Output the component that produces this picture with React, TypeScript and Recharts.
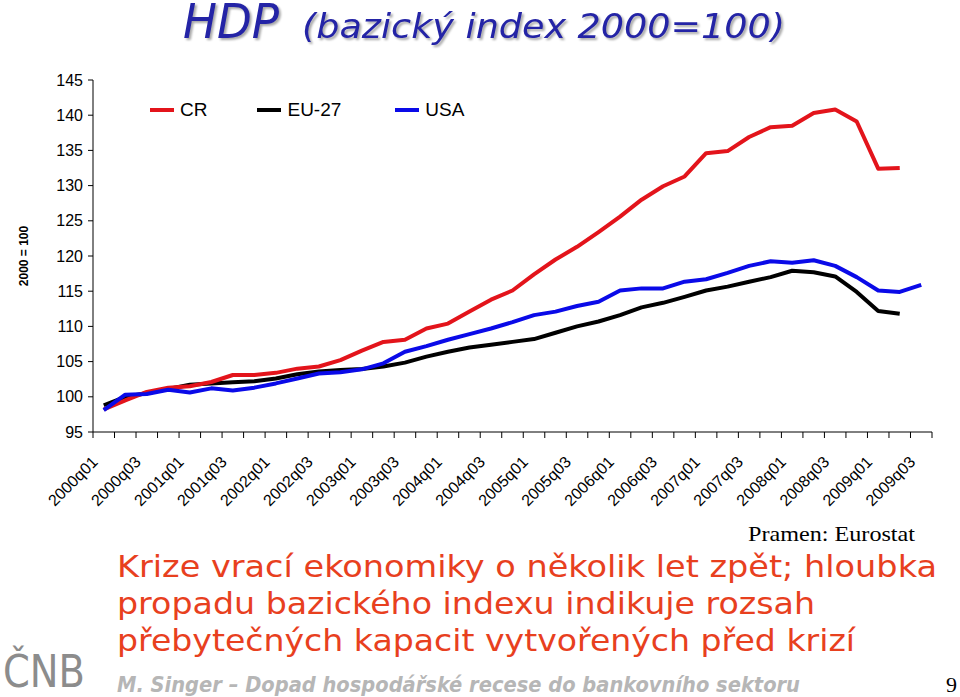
import React from 'react';
import { LineChart, Line, XAxis, YAxis, Legend } from 'recharts';

const quarters = [
  '2000q01', '2000q02', '2000q03', '2000q04',
  '2001q01', '2001q02', '2001q03', '2001q04',
  '2002q01', '2002q02', '2002q03', '2002q04',
  '2003q01', '2003q02', '2003q03', '2003q04',
  '2004q01', '2004q02', '2004q03', '2004q04',
  '2005q01', '2005q02', '2005q03', '2005q04',
  '2006q01', '2006q02', '2006q03', '2006q04',
  '2007q01', '2007q02', '2007q03', '2007q04',
  '2008q01', '2008q02', '2008q03', '2008q04',
  '2009q01', '2009q02', '2009q03',
];

const cr = [
  98.2, 99.5, 100.7, 101.3, 101.5, 102.1, 103.1, 103.1, 103.4, 104.0,
  104.3, 105.2, 106.55, 107.8, 108.1, 109.7, 110.4, 112.1, 113.8, 115.1,
  117.4, 119.5, 121.3, 123.4, 125.6, 128.0, 129.9, 131.3, 134.6, 134.9,
  136.9, 138.3, 138.5, 140.3, 140.8, 139.1, 132.4, 132.5,
];

const eu27 = [
  98.8, 100.0, 100.5, 101.1, 101.7, 101.9, 102.05, 102.2, 102.6, 103.2,
  103.6, 103.8, 103.95, 104.3, 104.85, 105.7, 106.4, 107.0, 107.4, 107.8,
  108.2, 109.1, 110.0, 110.7, 111.6, 112.7, 113.35, 114.2, 115.1, 115.65,
  116.35, 117.0, 117.9, 117.7, 117.1, 114.9, 112.2, 111.8,
];

const usa = [
  98.1, 100.3, 100.4, 101.0, 100.6, 101.2, 100.9, 101.3, 101.9, 102.6,
  103.3, 103.5, 103.9, 104.75, 106.4, 107.2, 108.1, 108.9, 109.7, 110.6,
  111.6, 112.1, 112.9, 113.5, 115.1, 115.4, 115.4, 116.35, 116.7, 117.6,
  118.6, 119.25, 119.05, 119.4, 118.6, 117.0, 115.1, 114.9, 115.9,
];

const yTicks = [95, 100, 105, 110, 115, 120, 125, 130, 135, 140, 145];

const seriesNames = ['CR', 'EU-27', 'USA'];
const seriesColors = ['#e3141b', '#000000', '#0a0ae8'];

const data = quarters.map((q, i) => ({
  q,
  CR: cr[i] ?? null,
  'EU-27': eu27[i] ?? null,
  USA: usa[i] ?? null,
}));

// geometry
const W = 960;
const H = 697;
const PLOT_LEFT = 93;
const PLOT_RIGHT = 932;
const PLOT_TOP = 80;
const PLOT_BOTTOM = 432;
const Y_AXIS_W = 80;
const X_AXIS_H = 100;
const BAND = (PLOT_RIGHT - PLOT_LEFT) / quarters.length;

const AXIS_FONT = '"Liberation Sans", Arial, sans-serif';
const TITLE_FONT = '"DejaVu Sans Condensed", "DejaVu Sans", sans-serif';
const TITLE_COLOR = '#2424a6';

const XTick = (props: any) => {
  const { x, payload, index } = props;
  const idx = typeof index === 'number' ? index : payload.index;
  const half = BAND / 2;
  const tx = x - 5;
  const ty = PLOT_BOTTOM + 31;
  return (
    <g>
      <line x1={x - half} x2={x - half} y1={PLOT_BOTTOM} y2={PLOT_BOTTOM + 6} stroke="#000" strokeWidth={1} />
      {idx === quarters.length - 1 && (
        <line x1={x + half} x2={x + half} y1={PLOT_BOTTOM} y2={PLOT_BOTTOM + 6} stroke="#000" strokeWidth={1} />
      )}
      {idx % 2 === 0 && (
        <text
          x={tx}
          y={ty}
          transform={`rotate(-45 ${tx} ${ty})`}
          textAnchor="end"
          fontSize={16}
          fontFamily={AXIS_FONT}
          fill="#000"
        >
          {payload.value}
        </text>
      )}
    </g>
  );
};

const YLabel = (props: any) => {
  const vb = props.viewBox || {};
  const cx = 24;
  const cy = (vb.y ?? PLOT_TOP) + (vb.height ?? PLOT_BOTTOM - PLOT_TOP) / 2;
  return (
    <text
      x={cx}
      y={cy}
      transform={`rotate(-90 ${cx} ${cy})`}
      textAnchor="middle"
      dominantBaseline="central"
      fontSize={12}
      fontWeight="bold"
      fontFamily={AXIS_FONT}
      fill="#000"
    >
      2000 = 100
    </text>
  );
};

const renderLegend = (props: any) => {
  const payload: any[] = props.payload || [];
  const ordered = seriesNames
    .map((n) => payload.find((p) => p.value === n || p.dataKey === n))
    .filter(Boolean);
  return (
    <div style={{ display: 'flex', alignItems: 'center', fontFamily: AXIS_FONT, fontSize: 19, color: '#000', whiteSpace: 'nowrap' }}>
      {ordered.map((p: any, i: number) => (
        <div key={p.value} style={{ display: 'flex', alignItems: 'center', marginRight: i === 0 ? 50 : 54 }}>
          <div style={{ width: 24, height: 4, background: p.color, marginRight: 6 }} />
          <span>{p.value}</span>
        </div>
      ))}
    </div>
  );
};

export default function App() {
  return (
    <div style={{ position: 'absolute', left: 0, top: 0, width: W, height: H, overflow: 'hidden', background: '#fff' }}>
      <svg width={W} height={H} style={{ position: 'absolute', left: 0, top: 0 }}>
        <g style={{ filter: 'drop-shadow(2px 2px 1px #a8a8a8)' }}>
          <text
            x={183}
            y={38}
            fontSize={48}
            fontStyle="italic"
            fontFamily={TITLE_FONT}
            fill={TITLE_COLOR}
            textLength={96}
            lengthAdjust="spacingAndGlyphs"
          >
            HDP
          </text>
          <text
            x={302}
            y={38}
            fontSize={34}
            fontStyle="italic"
            fontFamily={TITLE_FONT}
            fill={TITLE_COLOR}
            textLength={483}
            lengthAdjust="spacingAndGlyphs"
          >
            (bazický index 2000=100)
          </text>
        </g>
        <text
          x={748}
          y={541}
          fontSize={22}
          fontFamily='"Liberation Serif", "Times New Roman", serif'
          fill="#000"
          textLength={167}
          lengthAdjust="spacingAndGlyphs"
        >
          Pramen: Eurostat
        </text>
        <text x={117} y={577} fontSize={31} fontFamily='"DejaVu Sans", sans-serif' fill="#e8401e" textLength={820} lengthAdjust="spacingAndGlyphs">
          Krize vrací ekonomiky o několik let zpět; hloubka
        </text>
        <text x={117} y={614} fontSize={31} fontFamily='"DejaVu Sans", sans-serif' fill="#e8401e" textLength={698} lengthAdjust="spacingAndGlyphs">
          propadu bazického indexu indikuje rozsah
        </text>
        <text x={117} y={651} fontSize={31} fontFamily='"DejaVu Sans", sans-serif' fill="#e8401e" textLength={738} lengthAdjust="spacingAndGlyphs">
          přebytečných kapacit vytvořených před krizí
        </text>
        <text
          x={117}
          y={692}
          fontSize={21}
          fontStyle="italic"
          fontWeight="bold"
          fontFamily={TITLE_FONT}
          fill="#b6b6b6"
          textLength={683}
          lengthAdjust="spacingAndGlyphs"
        >
          M. Singer – Dopad hospodářské recese do bankovního sektoru
        </text>
        <text x={946} y={692} fontSize={22} fontFamily='"Liberation Serif", serif' fill="#000">
          9
        </text>
        <text
          x={3}
          y={687}
          fontSize={44}
          fontFamily={TITLE_FONT}
          fill="#8c8c8c"
          textLength={82}
          lengthAdjust="spacingAndGlyphs"
        >
          ČNB
        </text>
      </svg>
      <div style={{ position: 'absolute', left: 0, top: 0 }}>
        <LineChart
          width={W}
          height={H}
          data={data}
          margin={{ top: PLOT_TOP, right: W - PLOT_RIGHT, bottom: H - PLOT_BOTTOM - X_AXIS_H, left: PLOT_LEFT - Y_AXIS_W }}
        >
          <XAxis
            dataKey="q"
            type="category"
            interval={0}
            height={X_AXIS_H}
            padding={{ left: BAND / 2, right: BAND / 2 }}
            axisLine={{ stroke: '#000', strokeWidth: 1 }}
            tickLine={false}
            tick={<XTick />}
          />
          <YAxis
            domain={[95, 145]}
            ticks={yTicks}
            interval={0}
            width={Y_AXIS_W}
            allowDataOverflow
            tickSize={5}
            tickMargin={5}
            axisLine={{ stroke: '#000', strokeWidth: 1 }}
            tickLine={{ stroke: '#000', strokeWidth: 1 }}
            tick={{ fontSize: 16, fill: '#000', fontFamily: AXIS_FONT }}
            label={{ content: <YLabel /> }}
          />
          <Legend
            layout="vertical"
            verticalAlign="middle"
            align="center"
            content={renderLegend}
            wrapperStyle={{ position: 'absolute', top: 99, left: 150, width: 'auto', height: 'auto' }}
          />
          <Line dataKey="EU-27" name="EU-27" stroke={seriesColors[1]} strokeWidth={4} dot={false} isAnimationActive={false} strokeLinejoin="round" />
          <Line dataKey="CR" name="CR" stroke={seriesColors[0]} strokeWidth={4} dot={false} isAnimationActive={false} strokeLinejoin="round" />
          <Line dataKey="USA" name="USA" stroke={seriesColors[2]} strokeWidth={4} dot={false} isAnimationActive={false} strokeLinejoin="round" />
        </LineChart>
      </div>
    </div>
  );
}
